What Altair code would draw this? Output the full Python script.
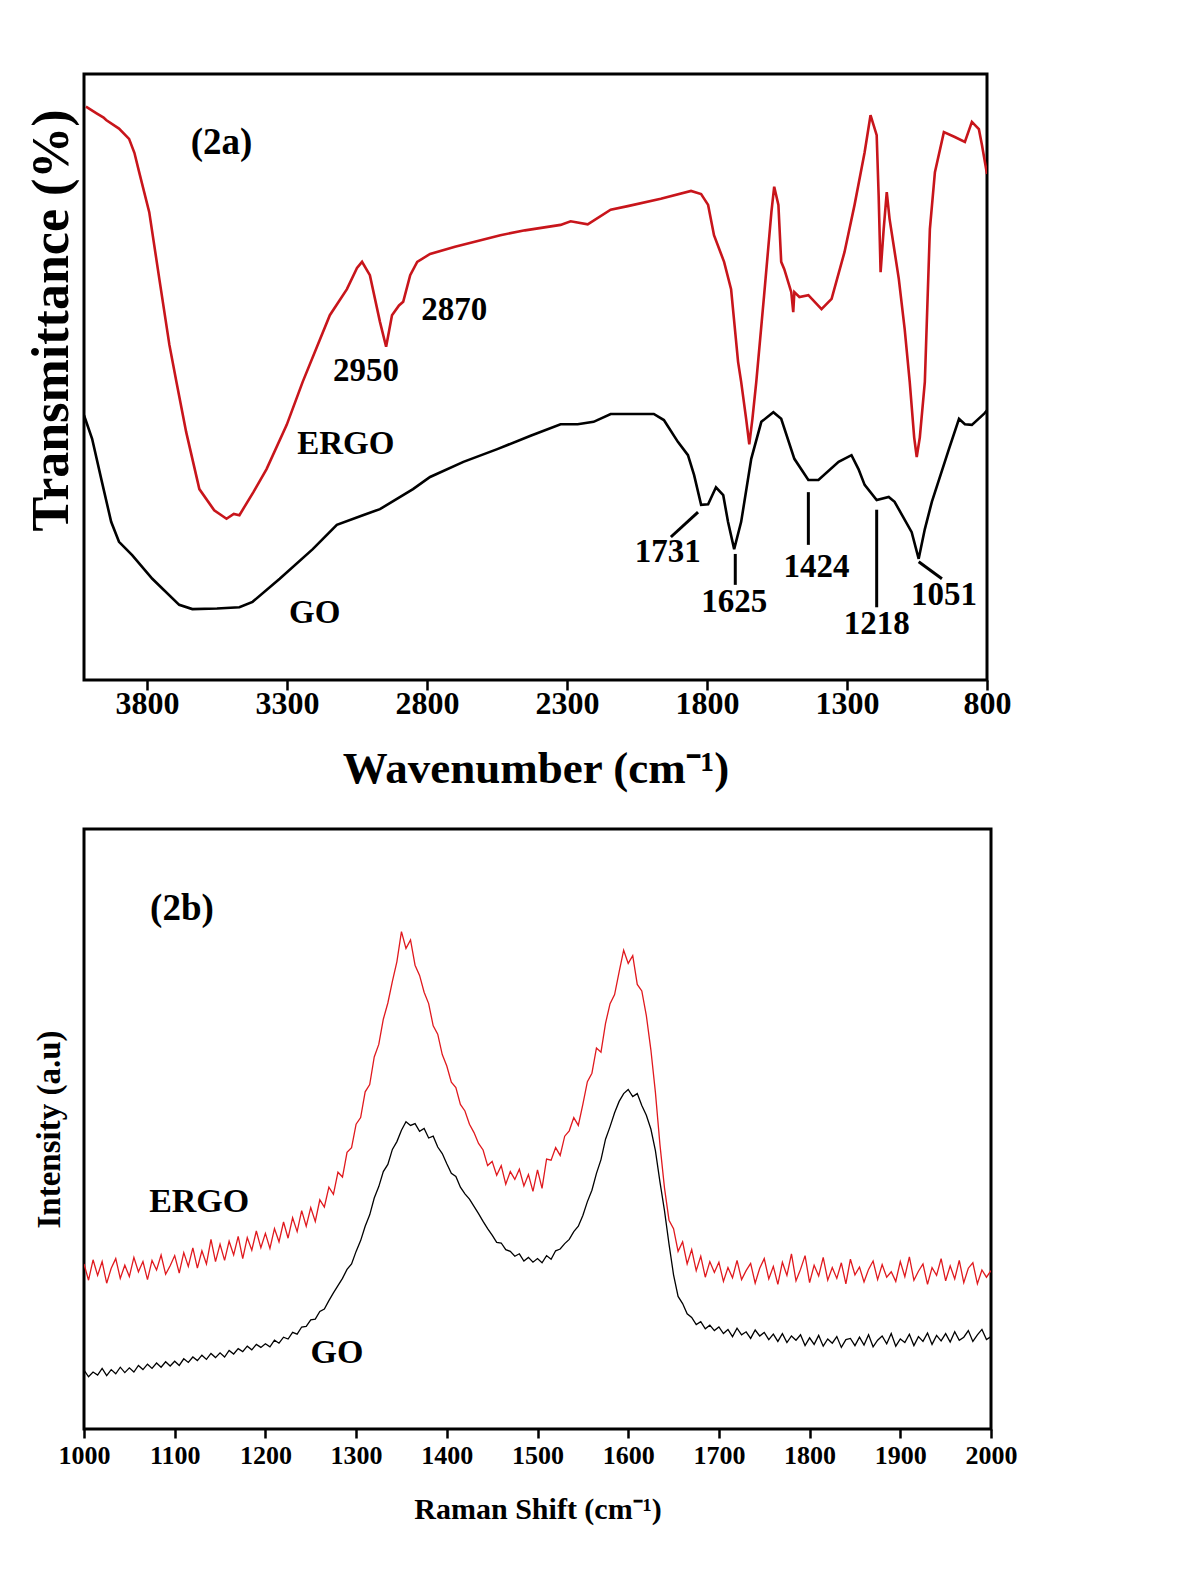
import altair as alt
import pandas as pd

# ---------------- FTIR (2a) ----------------
ergo_wn = [4018, 3980, 3955, 3946, 3900, 3864, 3845, 3828, 3792, 3756, 3720, 3695, 3660, 3613, 3560,
           3516, 3490, 3470, 3420, 3373, 3301, 3244, 3147, 3086, 3050, 3032, 3004, 2968, 2946, 2925,
           2900, 2885, 2860, 2835, 2789, 2700, 2538, 2450, 2323, 2287, 2226, 2144, 2083, 1965, 1857,
           1821, 1796, 1775, 1739, 1714, 1689, 1678, 1660, 1649, 1638, 1624, 1596, 1570, 1560, 1545,
           1535, 1524, 1499, 1492, 1488, 1470, 1438, 1391, 1355, 1309, 1273, 1237, 1216, 1194, 1187,
           1180, 1169, 1158, 1148, 1115, 1094, 1076, 1060, 1051, 1040, 1022, 1004, 986, 954, 915,
           879, 854, 829, 818, 800]
ergo_t = [94.6, 93.5, 92.8, 92.4, 91.0, 89.3, 87.0, 83.8, 77.2, 66.2, 55.3, 49.2, 40.9, 31.5, 28.0,
          26.6, 27.4, 27.2, 31.0, 34.8, 42.1, 49.2, 60.2, 64.5, 68.0, 69.0, 66.8, 59.1, 55.0, 60.2,
          61.8, 62.4, 66.8, 69.0, 70.3, 71.5, 73.4, 74.2, 75.1, 75.7, 75.2, 77.6, 78.2, 79.4, 80.7,
          80.2, 78.4, 73.4, 69.0, 64.5, 52.5, 49.2, 43.0, 38.9, 43.0, 49.2, 63.5, 77.2, 81.4, 78.4,
          69.0, 67.8, 64.0, 60.7, 64.0, 63.2, 63.5, 61.2, 62.9, 70.6, 78.4, 87.1, 93.2, 89.9, 80.0,
          67.3, 74.4, 80.5, 76.1, 66.2, 57.9, 49.2, 40.0, 36.8, 40.0, 49.2, 74.4, 83.8, 90.4, 89.6,
          88.8, 92.1, 90.9, 88.3, 83.5]

go_wn = [4025, 3996, 3961, 3928, 3900, 3853, 3781, 3685, 3638, 3550, 3470, 3423, 3326, 3208, 3122,
         3029, 2968, 2850, 2789, 2670, 2549, 2430, 2323, 2262, 2205, 2144, 1990, 1954, 1904, 1868,
         1846, 1821, 1796, 1768, 1742, 1725, 1703, 1678, 1642, 1606, 1563, 1535, 1488, 1438, 1402,
         1330, 1284, 1259, 1237, 1194, 1151, 1130, 1069, 1044, 1022, 997, 936, 900, 879, 854,
         811, 800]
go_t = [43.7, 39.8, 32.7, 26.1, 22.8, 20.6, 16.7, 12.4, 11.7, 11.8, 12.0, 12.9, 16.7, 21.6, 25.6,
        27.2, 28.2, 31.5, 33.5, 36.0, 38.1, 40.3, 42.2, 42.2, 42.6, 43.9, 43.9, 42.9, 39.3, 37.1,
        33.8, 28.9, 29.0, 31.8, 30.5, 26.1, 21.6, 26.1, 36.5, 42.6, 44.2, 43.1, 36.5, 33.0, 33.0,
        36.0, 37.1, 34.8, 32.2, 29.7, 30.2, 29.4, 24.4, 20.0, 24.9, 29.4, 38.1, 43.1, 42.2, 42.1,
        43.9, 44.5]

ftir_ticks = [3800, 3300, 2800, 2300, 1800, 1300, 800]

ftir_labels = ["2870", "2950", "ERGO", "GO", "1731", "1625", "1424", "1218", "1051"]
ftir_label_wn = [2703, 3018, 3090, 3201, 1940, 1703, 1409, 1194, 954]
ftir_label_t = [61.1, 51.0, 38.9, 11.1, 21.1, 12.9, 18.6, 9.2, 14.0]

lead_wn1 = [1832, 1699, 1438, 1194, 1044]
lead_wn2 = [1929, 1699, 1438, 1194, 961]
lead_t1 = [27.7, 20.8, 31.0, 28.1, 19.5]
lead_t2 = [23.6, 15.7, 22.3, 12.0, 16.7]

# ---------------- Raman (2b) ----------------
raman_shift = list(range(1000, 2001, 5))
ergo_raman = [
    27.5, 24.8, 28.2, 25.6, 27.9, 24.3, 26.8, 28.4, 25.1, 27.3,
    25.4, 28.6, 26.2, 27.9, 24.9, 28.1, 26.5, 29.0, 25.8, 27.2,
    28.9, 26.0, 29.4, 27.1, 30.2, 26.8, 29.7, 27.5, 31.6, 27.9,
    30.8, 28.1, 31.3, 29.0, 32.1, 28.4, 31.9, 29.8, 33.0, 30.2,
    32.6, 30.1, 33.4, 31.2, 34.5, 31.8, 35.2, 32.9, 36.4, 33.8,
    36.9, 34.6, 38.2, 37.0, 40.3, 39.1, 42.8, 42.0, 46.1, 46.9,
    50.8, 51.9, 56.2, 57.4, 62.0, 64.1, 68.3, 71.0, 74.6, 77.9,
    82.9, 80.1, 81.5, 77.3, 75.6, 72.8, 70.9, 67.2, 65.8, 62.4,
    60.5, 57.8, 56.9, 54.1, 53.0, 50.8, 49.4, 47.6, 46.5, 43.9,
    44.6, 42.3, 43.9, 40.8, 42.9, 41.6, 43.3, 40.5, 42.4, 39.6,
    43.2, 40.1, 45.0, 44.8, 46.9, 45.6, 48.8, 49.7, 51.9, 50.6,
    54.1, 57.9, 59.3, 63.5, 62.8, 67.6, 70.9, 72.4, 76.2, 79.8,
    77.6, 78.9, 74.1, 73.0, 68.9, 63.2, 56.1, 47.4, 40.2, 34.8,
    33.4, 29.6, 31.2, 27.5, 29.9, 26.4, 28.8, 25.3, 27.9, 26.1,
    27.8, 24.6, 26.9, 25.2, 28.1, 24.9, 26.4, 27.6, 24.3, 26.8,
    28.4, 25.0, 27.1, 24.1, 27.8, 25.6, 29.2, 24.7, 26.6, 28.9,
    24.4, 27.3, 25.5, 28.6, 24.8, 26.9, 25.1, 27.7, 24.2, 28.3,
    25.7, 27.0, 24.5, 26.6, 28.0, 24.9, 27.4, 25.3, 26.2, 24.6,
    27.9, 25.4, 28.7, 24.8, 26.3, 27.5, 24.1, 26.9, 25.6, 28.4,
    24.7, 27.2, 25.0, 28.1, 24.4, 26.8, 27.7, 24.2, 26.5, 25.3,
    26.4]
go_raman = [
    9.8, 8.7, 9.5, 9.0, 10.1, 8.9, 9.9, 9.2, 10.3, 9.4,
    10.2, 9.5, 10.6, 9.9, 10.8, 10.1, 11.0, 10.3, 11.2, 10.5,
    11.3, 10.6, 11.7, 11.1, 12.0, 11.4, 12.3, 11.6, 12.6, 11.9,
    12.7, 12.0, 13.1, 12.5, 13.4, 12.9, 13.8, 13.2, 14.1, 13.6,
    14.2, 13.7, 14.8, 14.3, 15.3, 15.0, 16.1, 15.8, 17.0, 17.1,
    18.2, 18.3, 19.6, 20.0, 21.4, 22.7, 23.9, 25.1, 26.6, 27.5,
    29.6, 31.4, 33.8, 35.7, 38.5, 40.4, 42.9, 44.1, 46.6, 47.9,
    49.8, 51.2, 50.6, 50.9, 49.6, 50.1, 48.5, 48.8, 47.0, 45.9,
    44.2, 42.6, 42.1, 40.3, 39.2, 38.3, 37.1, 35.9, 34.6, 33.4,
    32.3, 31.1, 31.0, 29.9, 29.6, 28.8, 29.2, 28.0, 28.6, 27.8,
    28.4, 27.7, 28.9, 28.3, 29.7, 30.0, 30.9, 31.6, 32.9, 33.8,
    35.6, 37.9, 39.8, 42.6, 44.9, 48.3, 50.4, 52.7, 54.6, 55.9,
    56.6, 55.4, 55.9, 53.9, 52.3, 50.0, 46.4, 41.2, 36.4, 30.8,
    25.7, 22.1, 20.9, 19.2, 18.6, 17.4, 17.9, 16.7, 17.3, 16.4,
    17.0, 15.9, 16.6, 15.4, 16.8, 15.7, 16.2, 15.1, 16.5, 15.5,
    16.1, 14.9, 15.8, 14.6, 15.9, 14.4, 15.5, 14.8, 15.7, 13.9,
    15.2, 14.1, 15.6, 13.8, 15.0, 14.3, 15.4, 13.6, 14.9, 15.1,
    13.9, 15.3, 14.0, 15.7, 13.7, 14.8, 15.5, 14.2, 15.9, 13.8,
    15.0, 14.4, 15.8, 13.9, 15.4, 14.6, 16.0, 14.1, 15.6, 14.7,
    15.9, 14.5, 16.2, 14.8, 15.3, 16.4, 14.6, 15.7, 16.6, 14.9,
    15.4]

raman_ticks = [1000, 1100, 1200, 1300, 1400, 1500, 1600, 1700, 1800, 1900, 2000]

raman_labels = ["ERGO", "GO"]
raman_label_x = [1127, 1279]
raman_label_y = [37.8, 12.7]

# ---------------- styles ----------------
FONT = "Liberation Serif"
RED_TOP = "#c8151b"
RED_BOT = "#e0191e"

df_ergo = pd.DataFrame({"wn": ergo_wn, "t": ergo_t})
df_go = pd.DataFrame({"wn": go_wn, "t": go_t})
df_flab = pd.DataFrame({"label": ftir_labels, "wn": ftir_label_wn, "t": ftir_label_t})
df_lead = pd.DataFrame({"wn1": lead_wn1, "wn2": lead_wn2, "t1": lead_t1, "t2": lead_t2})
df_panel_a = pd.DataFrame({"label": ["(2a)"], "wn": [3534], "t": [88.6]})

xs_top = alt.Scale(domain=[800, 4025], reverse=True, nice=False, zero=False)
ys_top = alt.Scale(domain=[0, 100], nice=False, zero=False)

x_axis_top = alt.Axis(values=ftir_ticks, format="d", title="Wavenumber (cm⁻¹)", labelFont=FONT,
                      labelFontSize=32, labelFontWeight="bold", labelColor="black", tickColor="black",
                      tickSize=10, tickWidth=2.5, labelPadding=-2, titleFont=FONT, titleFontSize=45,
                      titleFontWeight="bold", titleColor="black", titlePadding=27, domain=False,
                      grid=False, labelFlush=False, labelOverlap=False)
y_axis_top = alt.Axis(title="Transmittance (%)", labels=False, ticks=False, domain=False, grid=False,
                      titleFont=FONT, titleFontSize=52, titleFontWeight="bold", titleColor="black",
                      titlePadding=6, titleY=246)

base_top_x = alt.X("wn:Q", scale=xs_top, axis=x_axis_top)
base_top_y = alt.Y("t:Q", scale=ys_top, axis=y_axis_top)

l_ergo = alt.Chart(df_ergo).mark_line(color=RED_TOP, strokeWidth=2.6, clip=True).encode(
    x=base_top_x, y=base_top_y)
l_go = alt.Chart(df_go).mark_line(color="black", strokeWidth=2.6, clip=True).encode(
    x=alt.X("wn:Q", scale=xs_top), y=alt.Y("t:Q", scale=ys_top))
leads = alt.Chart(df_lead).mark_rule(color="black", strokeWidth=3).encode(
    x=alt.X("wn1:Q", scale=xs_top), x2="wn2:Q",
    y=alt.Y("t1:Q", scale=ys_top), y2="t2:Q")
flabels = alt.Chart(df_flab).mark_text(font=FONT, fontSize=33, fontWeight="bold", color="black",
                                       align="center", baseline="middle").encode(
    x=alt.X("wn:Q", scale=xs_top), y=alt.Y("t:Q", scale=ys_top), text="label:N")
panel_a = alt.Chart(df_panel_a).mark_text(font=FONT, fontSize=37, fontWeight="bold", color="black",
                                          align="center", baseline="middle").encode(
    x=alt.X("wn:Q", scale=xs_top), y=alt.Y("t:Q", scale=ys_top), text="label:N")

top = alt.layer(l_ergo, l_go, leads, flabels, panel_a).properties(width=903, height=606)

# bottom panel
df_raman = pd.DataFrame({"r": raman_shift, "ergo": ergo_raman, "go": go_raman})
df_rlab = pd.DataFrame({"label": raman_labels, "r": raman_label_x, "i": raman_label_y})
df_panel_b = pd.DataFrame({"label": ["(2b)"], "r": [1108], "i": [86.7]})

xs_bot = alt.Scale(domain=[1000, 2000], nice=False, zero=False)
ys_bot = alt.Scale(domain=[0, 100], nice=False, zero=False)

x_axis_bot = alt.Axis(values=raman_ticks, format="d", title="Raman Shift (cm⁻¹)", labelFont=FONT,
                      labelFontSize=26, labelFontWeight="bold", labelColor="black", tickColor="black",
                      tickSize=9, tickWidth=2.5, labelPadding=4, titleFont=FONT, titleFontSize=30,
                      titleFontWeight="bold", titleColor="black", titlePadding=26, domain=False,
                      grid=False, labelFlush=False, labelOverlap=False)
y_axis_bot = alt.Axis(title="Intensity (a.u)", labels=False, ticks=False, domain=False, grid=False,
                      titleFont=FONT, titleFontSize=33, titleFontWeight="bold", titleColor="black",
                      titlePadding=18)

r_ergo = alt.Chart(df_raman).mark_line(color=RED_BOT, strokeWidth=1.3, clip=True).encode(
    x=alt.X("r:Q", scale=xs_bot, axis=x_axis_bot),
    y=alt.Y("ergo:Q", scale=ys_bot, axis=y_axis_bot))
r_go = alt.Chart(df_raman).mark_line(color="black", strokeWidth=1.3, clip=True).encode(
    x=alt.X("r:Q", scale=xs_bot), y=alt.Y("go:Q", scale=ys_bot))
rlabels = alt.Chart(df_rlab).mark_text(font=FONT, fontSize=34, fontWeight="bold", color="black",
                                       align="center", baseline="middle").encode(
    x=alt.X("r:Q", scale=xs_bot), y=alt.Y("i:Q", scale=ys_bot), text="label:N")
panel_b = alt.Chart(df_panel_b).mark_text(font=FONT, fontSize=37, fontWeight="bold", color="black",
                                          align="center", baseline="middle").encode(
    x=alt.X("r:Q", scale=xs_bot), y=alt.Y("i:Q", scale=ys_bot), text="label:N")

bottom = alt.layer(r_ergo, r_go, rlabels, panel_b).properties(width=907, height=600)

chart = alt.vconcat(top, bottom, spacing=34).configure_view(
    stroke="black", strokeWidth=3).properties(
    padding={"left": 15, "top": 64, "right": 10, "bottom": 10}, background="white")

chart.save("out.html", embed_options={"renderer": "svg", "actions": False})
